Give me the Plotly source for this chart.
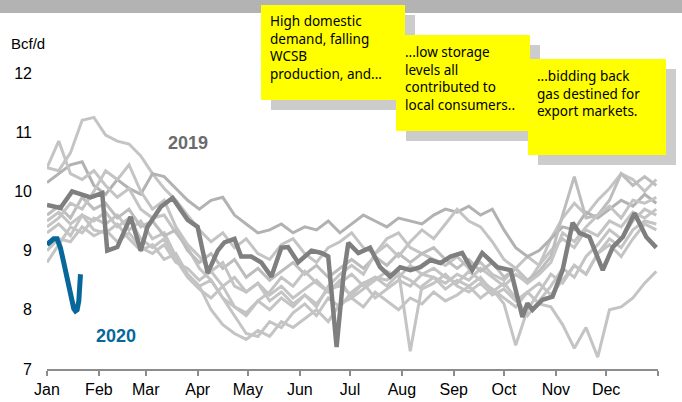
import pandas as pd
import plotly.graph_objects as go

# weekly samples, day 0 = Jan 1
week_days = [7 * k for k in range(53)]

# historical years (light grey spaghetti)
hist_a = [10.40, 10.35, 10.65, 11.20, 11.25,
          10.95, 10.85, 10.80, 10.60,
          10.30, 10.05, 9.85, 9.60,
          9.35, 9.15, 9.30, 9.05,
          9.20, 8.95, 8.85, 9.10, 9.20,
          8.95, 8.80, 9.05, 9.15,
          9.30, 9.05, 8.95, 9.20, 9.30,
          9.05, 8.95, 8.85, 8.75,
          8.90, 8.70, 8.80, 8.60,
          8.50, 8.70, 8.90, 8.75, 9.20,
          9.55, 9.80, 9.60, 9.85,
          10.05, 10.30, 10.20, 10.00, 10.20]
hist_b = [10.15, 10.30, 10.45, 10.50, 10.10,
          9.95, 10.20, 10.05, 9.95,
          10.30, 10.25, 10.05, 9.85,
          9.70, 9.85, 9.90, 9.60,
          9.45, 9.30, 9.35, 9.45, 9.30,
          9.40, 9.35, 9.50, 9.30,
          9.45, 9.60, 9.50, 9.40, 9.55,
          9.50, 9.45, 9.60, 9.70,
          9.65, 9.75, 9.60, 9.70,
          9.35, 9.05, 8.90, 9.00, 9.20,
          9.40, 9.35, 9.65, 9.55,
          9.70, 9.85, 9.75, 9.95, 9.80]
hist_c = [10.40, 10.85, 10.30, 10.20, 10.35,
          10.10, 9.90, 10.05, 9.70,
          9.55, 9.60, 9.30, 9.05,
          8.70, 8.50, 8.20, 7.90,
          7.60, 7.55, 7.80, 7.70, 7.95,
          8.10, 7.90, 8.20, 8.05,
          8.30, 8.45, 8.20, 8.35, 8.50,
          8.40, 8.60, 8.55, 8.35,
          8.50, 8.40, 8.55, 8.30,
          8.45, 8.20, 7.90, 8.15, 8.40,
          8.70, 8.55, 8.90, 9.10,
          9.35, 9.20, 9.50, 9.70, 9.60]
hist_d = [9.50, 9.65, 9.45, 9.60, 9.35,
          9.30, 9.45, 9.20, 9.00,
          9.10, 8.85, 8.95, 8.60,
          8.40, 8.50, 8.20, 8.05,
          7.90, 8.15, 8.00, 8.20, 8.05,
          8.25, 8.10, 8.35, 8.40,
          8.25, 8.45, 8.55, 8.40, 8.60,
          8.50, 8.35, 8.45, 8.60,
          8.40, 8.30, 8.45, 8.25,
          8.35, 8.15, 8.30, 8.10, 8.05,
          7.75, 7.35, 7.70, 7.20,
          8.00, 8.05, 8.20, 8.45, 8.65]
hist_e = [8.80, 9.10, 9.40, 9.30, 9.55,
          9.45, 9.60, 9.35, 9.50,
          9.20, 9.30, 8.90, 8.60,
          8.40, 8.00, 7.75, 7.60,
          7.50, 7.65, 7.55, 7.80, 7.70,
          7.85, 8.00, 7.80, 8.10,
          8.20, 8.05, 8.30, 8.15, 8.00,
          8.20, 8.10, 8.30, 8.15,
          8.25, 8.40, 8.20, 8.35,
          8.10, 7.40, 8.00, 8.30, 8.60,
          8.45, 8.75, 8.60, 8.95,
          9.10, 8.90, 9.20, 9.45, 9.35]
hist_f = [9.00, 9.20, 9.15, 9.40, 9.25,
          9.35, 9.15, 9.30, 9.05,
          8.95, 9.10, 8.80, 8.70,
          8.50, 8.65, 8.40, 8.55,
          8.30, 8.45, 8.25, 8.40, 8.20,
          8.35, 8.50, 8.30, 8.45,
          8.60, 8.40, 8.55, 8.50, 8.65,
          7.30, 8.40, 8.55, 8.45,
          8.60, 8.50, 8.70, 8.55,
          8.40, 8.60, 8.45, 8.75, 9.00,
          9.20, 9.05, 9.35, 9.25,
          9.50, 9.40, 9.65, 9.55, 9.70]
hist_g = [9.60, 9.75, 9.55, 9.90, 9.70,
          9.80, 9.55, 9.70, 9.40,
          9.50, 9.25, 9.35, 9.00,
          8.80, 8.95, 8.70, 8.85,
          8.55, 8.70, 8.50, 8.65, 8.80,
          8.60, 8.75, 8.55, 8.70,
          8.85, 8.70, 8.90, 8.75, 8.95,
          8.80, 8.95, 9.05, 8.85,
          8.70, 8.85, 8.65, 8.80,
          8.55, 8.70, 8.50, 8.65, 8.90,
          9.60, 10.25, 9.55, 9.60,
          9.85, 10.30, 10.10, 10.25, 10.10]
hist_h = [9.40, 9.55, 9.80, 9.70, 10.00,
          10.35, 10.20, 10.45, 10.00,
          9.70, 9.85, 9.40, 9.10,
          8.90, 8.65, 8.80, 8.40,
          8.30, 8.45, 8.15, 8.30, 8.10,
          8.25, 8.05, 8.40, 8.60,
          8.75, 8.60, 8.95, 9.10, 8.90,
          9.15, 9.35, 9.20, 9.45,
          9.70, 9.50, 9.40, 9.15,
          8.85, 8.70, 8.45, 8.60, 8.80,
          9.30, 9.15, 9.40, 9.60,
          9.75, 9.55, 9.85, 9.80, 9.90]
hist_i = [9.30, 9.45, 9.25, 9.60, 9.50,
          9.65, 9.40, 9.55, 9.20,
          9.05, 9.20, 8.85, 8.55,
          8.35, 8.20, 8.40, 8.05,
          7.95, 8.15, 8.30, 8.55, 8.40,
          8.65, 8.45, 8.30, 8.50,
          8.20, 8.35, 8.50, 8.65, 8.55,
          8.75, 8.60, 8.70, 8.55,
          8.45, 8.65, 8.50, 8.35,
          8.20, 8.05, 8.30, 8.45, 8.25,
          8.50, 8.75, 8.60, 8.95,
          9.20, 9.05, 9.35, 9.50, 9.45]

historical = [hist_a, hist_b, hist_c, hist_d, hist_e, hist_f, hist_g, hist_h, hist_i]
hist_colors = ['#c4c4c4', '#b2b2b2', '#c4c4c4', '#c4c4c4', '#c4c4c4',
               '#c4c4c4', '#bdbdbd', '#c4c4c4', '#c4c4c4']

days_2019 = [0, 8, 15, 26, 33, 36, 42, 50, 56, 60, 68, 75, 84, 90, 93, 96, 102, 106,
             112, 116, 122, 128, 134, 140, 144, 150, 158, 164, 168, 173, 177, 180,
             186, 193, 199, 205, 211, 217, 223, 229, 235, 241, 248, 254, 260, 269,
             277, 284, 287, 290, 296, 302, 308, 314, 318, 324, 332, 338, 344, 351,
             358, 364]
vals_2019 = [9.77, 9.72, 10.00, 9.90, 9.97, 9.00, 9.06, 9.57, 9.00, 9.40, 9.74, 9.89,
             9.52, 9.40, 9.00, 8.62, 9.00, 9.14, 9.20, 8.90, 8.90, 8.80, 8.56, 9.05,
             9.06, 8.80, 9.00, 8.96, 8.90, 7.37, 8.55, 9.13, 8.96, 9.05, 8.72, 8.56,
             8.72, 8.67, 8.72, 8.84, 8.79, 8.90, 8.96, 8.67, 8.96, 8.72, 8.67, 7.88,
             8.11, 8.00, 8.17, 8.22, 8.67, 9.47, 9.30, 9.23, 8.67, 9.06, 9.23, 9.63,
             9.23, 9.05]

days_2020 = [0, 2, 4, 6, 8, 10, 12, 14, 16, 17, 18, 19, 19.5, 20]
vals_2020 = [9.10, 9.15, 9.20, 9.20, 9.05, 8.80, 8.55, 8.25, 8.02, 7.98, 8.00, 8.15, 8.40, 8.60]

month_labels = ['Jan', 'Feb', 'Mar', 'Apr', 'May', 'Jun', 'Jul', 'Aug', 'Sep', 'Oct', 'Nov', 'Dec', '']
y_ticks = [7, 8, 9, 10, 11, 12]

notes = ['High domestic<br>demand, falling<br>WCSB<br>production, and...',
         '...low storage<br>levels all<br>contributed to<br>local consumers..',
         '...bidding back<br>gas destined for<br>export markets.']

base = pd.Timestamp('2019-01-01')


def to_dates(days):
    return base + pd.to_timedelta(days, unit='D')


# pixel helpers for the plot box (left 47, right 658, top 73, bottom 369)
L, R, T, B = 47, 658, 73, 369


def px_x(x):
    return (x - L) / (R - L)


def px_y(y):
    return (B - y) / (B - T)


fig = go.Figure()

for vals, col in zip(historical, hist_colors):
    fig.add_trace(go.Scatter(x=to_dates(week_days), y=vals, mode='lines',
                             line=dict(color=col, width=3), hoverinfo='skip'))

fig.add_trace(go.Scatter(x=to_dates(days_2019), y=vals_2019, mode='lines',
                         line=dict(color='#7f7f7f', width=4.5)))
fig.add_trace(go.Scatter(x=to_dates(days_2020), y=vals_2020, mode='lines',
                         line=dict(color='#07679b', width=5)))

shapes = []
# grey band at top
shapes.append(dict(type='rect', xref='paper', yref='paper',
                   x0=px_x(-5), x1=px_x(690), y0=px_y(13), y1=px_y(-5),
                   fillcolor='#b3b3b3', line_width=0, layer='above'))

boxes = [(261, 405, 5, 100), (396, 530, 35, 131), (528, 666, 59, 155)]
for (x0, x1, y0, y1) in boxes:
    shapes.append(dict(type='rect', xref='paper', yref='paper',
                       x0=px_x(x0 + 10), x1=px_x(x1 + 10), y0=px_y(y1 + 10), y1=px_y(y0 + 10),
                       fillcolor='#cccccc', line_width=0, layer='above'))
    shapes.append(dict(type='rect', xref='paper', yref='paper',
                       x0=px_x(x0), x1=px_x(x1), y0=px_y(y1), y1=px_y(y0),
                       fillcolor='#ffff00', line_width=0, layer='above'))

annotations = []
note_pos = [(268, 10), (403, 41), (535, 65)]
for txt, (nx, ny) in zip(notes, note_pos):
    annotations.append(dict(text=txt, xref='paper', yref='paper', x=px_x(nx), y=px_y(ny),
                            xanchor='left', yanchor='top', align='left', showarrow=False,
                            font=dict(family='Noto Sans', size=13.5, color='black')))

annotations.append(dict(text='Bcf/d', xref='paper', yref='paper', x=px_x(9), y=px_y(43),
                        xanchor='left', yanchor='middle', showarrow=False,
                        font=dict(family='Liberation Sans, Arial', size=15, color='black')))
annotations.append(dict(text='<b>2019</b>', x=to_dates([84])[0], y=10.82, showarrow=False,
                        font=dict(family='Liberation Sans, Arial', size=18, color='#6b6b6b')))
annotations.append(dict(text='<b>2020</b>', x=to_dates([41])[0], y=7.56, showarrow=False,
                        font=dict(family='Liberation Sans, Arial', size=18, color='#07679b')))

tick_dates = pd.date_range('2019-01-01', '2020-01-01', freq='MS')

fig.update_layout(
    width=682, height=402,
    margin=dict(l=L, r=682 - R, t=T, b=402 - B),
    paper_bgcolor='white', plot_bgcolor='white',
    showlegend=False,
    shapes=shapes,
    annotations=annotations,
    font=dict(family='Liberation Sans, Arial', size=16, color='black'),
    xaxis=dict(range=[tick_dates[0], tick_dates[-1]], tickvals=tick_dates, ticktext=month_labels,
               showgrid=False, zeroline=False, showline=True, linecolor='#8c8c8c', linewidth=1.5,
               ticks='outside', ticklen=5, tickcolor='#8c8c8c', tickwidth=1.5,
               tickfont=dict(size=16), automargin=False),
    yaxis=dict(range=[7, 12], tickvals=y_ticks, showgrid=False, zeroline=False, showline=False,
               ticks='', ticklabelstandoff=14, tickfont=dict(size=16), automargin=False),
)

# drop the browser's default body margin so the figure sits at the page corner
fig.write_html('out.html', config={'displayModeBar': False},
               post_script="document.body.style.margin='0px';")
